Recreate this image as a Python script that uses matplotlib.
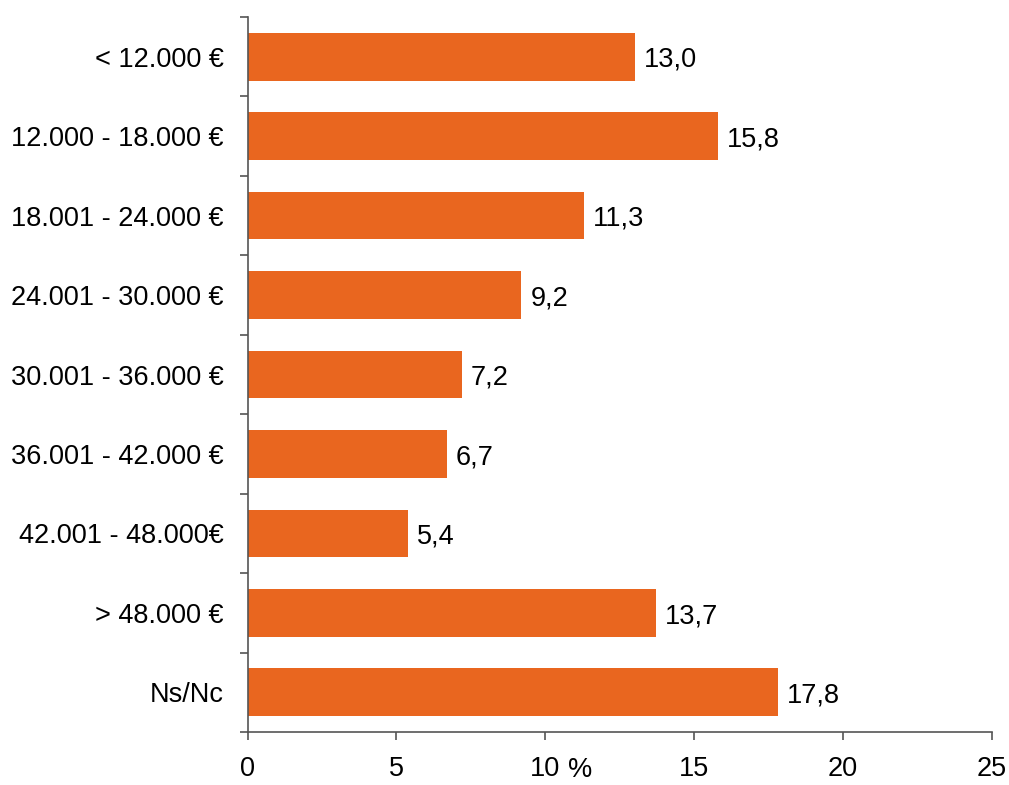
import matplotlib
matplotlib.use('Agg')
from matplotlib import pyplot as plt
import numpy as np

plt.rcParams['font.family'] = ['Liberation Sans', 'DejaVu Sans']

categories = ['< 12.000 €', '12.000 - 18.000 €', '18.001 - 24.000 €',
              '24.001 - 30.000 €', '30.001 - 36.000 €', '36.001 - 42.000 €',
              '42.001 - 48.000€', '> 48.000 €', 'Ns/Nc']
values = [13.0, 15.8, 11.3, 9.2, 7.2, 6.7, 5.4, 13.7, 17.8]
xticks = [0, 5, 10, 15, 20, 25]

BAR = '#E9661F'
AXIS = '#555555'
FS = 19.5

fig = plt.figure(figsize=(10.09, 7.85), dpi=100)
ax = fig.add_axes([0.2453, 0.0675, 0.7379, 0.9108])

n = len(categories)
y = np.arange(n)
ax.barh(y, values, height=0.6, color=BAR)
ax.set_ylim(n - 0.5, -0.5)
ax.set_xlim(0, 25)

for yi, v in zip(y, values):
	ax.text(v + 0.3, yi + 0.04, f'{v:.1f}'.replace('.', ','), va='center', ha='left', fontsize=FS)

# category labels at band centers, tick marks on the band boundaries
ax.set_yticks(y)
ax.set_yticklabels(categories, fontsize=FS)
ax.set_yticks(np.arange(n + 1) - 0.5, minor=True)
ax.tick_params(axis='y', which='major', length=0, pad=17)
ax.tick_params(axis='y', which='minor', length=6, width=1.2, color=AXIS, direction='out')

ax.set_xticks(xticks)
ax.set_xticklabels([str(t) for t in xticks], fontsize=FS)
ax.tick_params(axis='x', length=6, width=1.2, color=AXIS, pad=11)

for s in ['top', 'right']:
	ax.spines[s].set_visible(False)
for s in ['left', 'bottom']:
	ax.spines[s].set_color(AXIS)
	ax.spines[s].set_linewidth(1.2)

fig.text(580 / 1009, 1 - 757 / 785, '%', ha='center', va='top', fontsize=FS)

fig.savefig('out.png', dpi=100)
